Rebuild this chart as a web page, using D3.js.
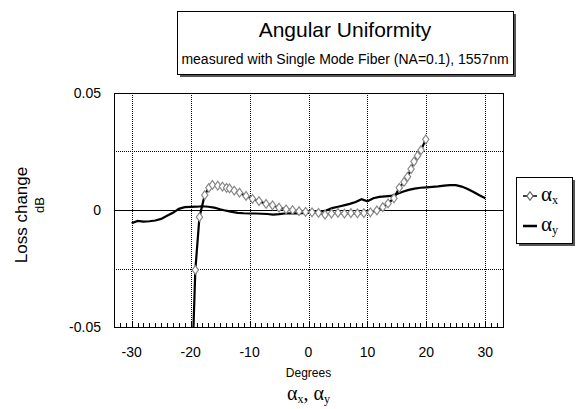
<!DOCTYPE html>
<html>
<head>
<meta charset="utf-8">
<script src="https://cdn.jsdelivr.net/npm/d3@7"></script>
<style>
  body { margin: 0; background: #fff; }
  text { font-family: Arial, "Liberation Sans", sans-serif; fill: #000; }
  .serif { font-family: "Times New Roman", "Liberation Serif", serif; }
</style>
</head>
<body>
<div id="chart"></div>
<script>
var WIDTH = 577;
var HEIGHT = 409;

// alpha x (with diamond markers)
var axDeg = [-19.9, -19.2, -18.5, -17.6, -16.9, -16.3, -15.4, -14.6, -13.9, -13.4, -12.6, -11.7,
	-10.6, -9.5, -8.4, -7.2, -6.1, -5.0, -3.8, -2.7, -1.6, -0.5, 0.6, 1.7, 2.8, 3.9, 5.0,
	6.1, 7.2, 8.3, 9.4, 10.5, 11.6, 12.6, 13.5, 14.5, 15.4, 16.2, 16.8, 17.4, 17.9, 18.5, 19.1, 19.9];
var axLoss = [-0.08, -0.0256, -0.003, 0.0064, 0.0095, 0.0107, 0.0104, 0.0100, 0.0095, 0.0092, 0.0083, 0.0074,
	0.0060, 0.0048, 0.0038, 0.0026, 0.0020, 0.0010, 0.0003, 0.0000, -0.0005, -0.0008, -0.0010, -0.0012, -0.0020, -0.0015, -0.0012,
	-0.0015, -0.0013, -0.0014, -0.0013, -0.0010, -0.0002, 0.0012, 0.0028, 0.0050, 0.0095, 0.0120, 0.0142, 0.0175, 0.0207, 0.0232, 0.0256, 0.0302];

// alpha y (plain line)
var ayDeg = d3.range(-30, 31, 1);
var ayLoss = [-0.0057, -0.0047, -0.0050, -0.0048, -0.0045, -0.0038, -0.0025, -0.0012, 0.0005, 0.0012,
	0.0013, 0.0014, 0.0016, 0.0014, 0.0010, 0.0003, -0.0003, -0.0008, -0.0012, -0.0014,
	-0.0015, -0.0015, -0.0016, -0.0017, -0.0020, -0.0018, -0.0015, -0.0014, -0.0014, -0.0013,
	-0.0012, -0.0010, -0.0007, -0.0002, 0.0008, 0.0014, 0.0020, 0.0026, 0.0034, 0.0046,
	0.0037, 0.0050, 0.0056, 0.0058, 0.0060, 0.0068, 0.0078, 0.0086, 0.0091, 0.0095,
	0.0097, 0.0099, 0.0101, 0.0104, 0.0106, 0.0106, 0.0100, 0.0090, 0.0077, 0.0063, 0.0050];

var xTicks = [-30, -20, -10, 0, 10, 20, 30];
var yTicks = [-0.05, 0, 0.05];
var yGrid = [-0.025, 0.025];
var minorTicks = d3.range(-32, 33, 1);

var margin = { top: 93, right: 74, bottom: 82, left: 114 };
var plotW = WIDTH - margin.left - margin.right;
var plotH = HEIGHT - margin.top - margin.bottom;

var svg = d3.select("#chart").append("svg")
	.attr("width", WIDTH)
	.attr("height", HEIGHT);

var x = d3.scaleLinear().domain([-33, 33]).range([0, plotW]);
var y = d3.scaleLinear().domain([-0.05, 0.05]).range([plotH, 0]);

var inner = svg.append("g")
	.attr("transform", `translate(${margin.left},${margin.top})`);

svg.append("defs").append("clipPath").attr("id", "plot-clip")
	.append("rect").attr("width", plotW).attr("height", plotH);

// grid
inner.selectAll(".vgrid")
	.data(xTicks)
	.enter().append("line")
	.attr("x1", d => Math.round(x(d)) + 0.5).attr("x2", d => Math.round(x(d)) + 0.5)
	.attr("y1", 0).attr("y2", plotH)
	.attr("stroke", "#000").attr("stroke-width", 1)
	.attr("stroke-dasharray", "1,1");

inner.selectAll(".hgrid")
	.data(yGrid)
	.enter().append("line")
	.attr("x1", 0).attr("x2", plotW)
	.attr("y1", d => Math.round(y(d)) + 0.5).attr("y2", d => Math.round(y(d)) + 0.5)
	.attr("stroke", "#000").attr("stroke-width", 1)
	.attr("stroke-dasharray", "1,1");

// zero line
inner.append("line")
	.attr("x1", 0).attr("x2", plotW)
	.attr("y1", Math.round(y(0)) + 0.5).attr("y2", Math.round(y(0)) + 0.5)
	.attr("stroke", "#000");

// minor ticks along bottom
inner.selectAll(".minor")
	.data(minorTicks)
	.enter().append("line")
	.attr("x1", d => Math.round(x(d)) + 0.5).attr("x2", d => Math.round(x(d)) + 0.5)
	.attr("y1", plotH).attr("y2", d => d % 10 === 0 ? plotH - 6 : plotH - 4)
	.attr("stroke", "#000");

// frame
inner.append("rect")
	.attr("x", 0.5).attr("y", 0.5)
	.attr("width", plotW).attr("height", plotH)
	.attr("fill", "none").attr("stroke", "#000");

// series
var line = d3.line().x(d => x(d[0])).y(d => y(d[1]));
var ayData = ayDeg.map((d, i) => [d, ayLoss[i]]);
var axData = axDeg.map((d, i) => [d, axLoss[i]]);

var series = inner.append("g").attr("clip-path", "url(#plot-clip)");

series.append("path")
	.datum(ayData)
	.attr("d", line)
	.attr("fill", "none").attr("stroke", "#000").attr("stroke-width", 2.2);

series.append("path")
	.datum(axData)
	.attr("d", line)
	.attr("fill", "none").attr("stroke", "#000").attr("stroke-width", 2.2);

var diamond = d3.symbol().type(d3.symbolDiamond).size(22);
series.selectAll(".mark")
	.data(axData.slice(1))
	.enter().append("path")
	.attr("d", diamond)
	.attr("transform", d => `translate(${x(d[0])},${y(d[1])}) scale(1.25,1)`)
	.attr("fill", "#fff").attr("stroke", "#888").attr("stroke-width", 1);

// axis labels
svg.selectAll(".ylab")
	.data(yTicks)
	.enter().append("text")
	.attr("x", margin.left - 13)
	.attr("y", d => margin.top + y(d) + 5)
	.attr("text-anchor", "end")
	.style("font-size", "14px")
	.text(d => d === 0 ? "0" : d3.format(".2f")(d).replace("−", "-"));

svg.selectAll(".xlab")
	.data(xTicks)
	.enter().append("text")
	.attr("x", d => margin.left + x(d))
	.attr("y", margin.top + plotH + 30)
	.attr("text-anchor", "middle")
	.style("font-size", "14px")
	.text(d => String(d));

svg.append("text")
	.attr("x", margin.left + x(0))
	.attr("y", 377)
	.attr("text-anchor", "middle")
	.style("font-size", "12px")
	.text("Degrees");

var xt = svg.append("text")
	.attr("class", "serif")
	.attr("x", margin.left + x(0))
	.attr("y", 400)
	.attr("text-anchor", "middle")
	.style("font-size", "20px");
xt.append("tspan").text("α");
xt.append("tspan").attr("dy", 3).style("font-size", "12px").text("x");
xt.append("tspan").attr("dy", -3).text(", α");
xt.append("tspan").attr("dy", 3).style("font-size", "12px").text("y");

svg.append("text")
	.attr("transform", "translate(27,215) rotate(-90)")
	.attr("text-anchor", "middle")
	.style("font-size", "17px")
	.text("Loss change");

svg.append("text")
	.attr("transform", "translate(44,205) rotate(-90)")
	.attr("text-anchor", "middle")
	.style("font-size", "13px")
	.text("dB");

// title box
var tb = { x: 177, y: 11, w: 336, h: 63 };
svg.append("rect")
	.attr("x", tb.x + 3).attr("y", tb.y + 3)
	.attr("width", tb.w).attr("height", tb.h)
	.attr("fill", "#555");
svg.append("rect")
	.attr("x", tb.x + 0.5).attr("y", tb.y + 0.5)
	.attr("width", tb.w).attr("height", tb.h)
	.attr("fill", "#fff").attr("stroke", "#000");
svg.append("text")
	.attr("x", tb.x + tb.w / 2).attr("y", 37)
	.attr("text-anchor", "middle")
	.style("font-size", "21px")
	.text("Angular Uniformity");
svg.append("text")
	.attr("x", tb.x + tb.w / 2).attr("y", 64)
	.attr("text-anchor", "middle")
	.style("font-size", "14px")
	.text("measured with Single Mode Fiber (NA=0.1), 1557nm");

// legend box
var lb = { x: 516, y: 177, w: 56, h: 66 };
svg.append("rect")
	.attr("x", lb.x + 3).attr("y", lb.y + 3)
	.attr("width", lb.w).attr("height", lb.h)
	.attr("fill", "#555");
svg.append("rect")
	.attr("x", lb.x + 0.5).attr("y", lb.y + 0.5)
	.attr("width", lb.w).attr("height", lb.h)
	.attr("fill", "#fff").attr("stroke", "#000");

var legendItems = [
	{ sub: "x", y: 198, marker: true },
	{ sub: "y", y: 228, marker: false }
];
var leg = svg.selectAll(".leg").data(legendItems).enter().append("g");
leg.append("line")
	.attr("x1", lb.x + 7).attr("x2", lb.x + 21)
	.attr("y1", d => d.y - 2).attr("y2", d => d.y - 2)
	.attr("stroke", "#000").attr("stroke-width", d => d.marker ? 1.5 : 2.5);
leg.filter(d => d.marker).append("path")
	.attr("d", diamond)
	.attr("transform", d => `translate(${lb.x + 14},${d.y - 2}) scale(1.25,1)`)
	.attr("fill", "#fff").attr("stroke", "#666");
var lt = leg.append("text")
	.attr("class", "serif")
	.attr("x", lb.x + 25).attr("y", d => d.y + 3)
	.style("font-size", "21px");
lt.append("tspan").text("α");
lt.append("tspan").attr("dy", 3).style("font-size", "12px").text(d => d.sub);
</script>
</body>
</html>
